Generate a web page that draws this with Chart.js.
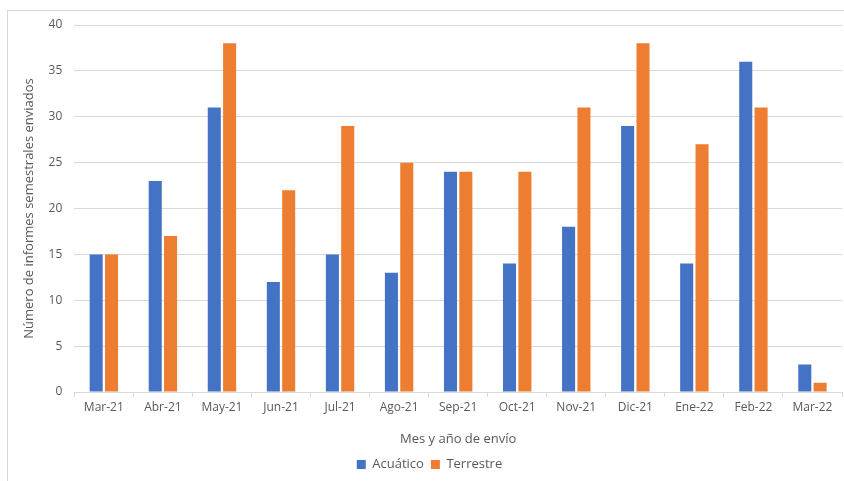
<!DOCTYPE html>
<html>
<head>
<meta charset="utf-8">
<script src="https://cdn.jsdelivr.net/npm/chart.js@4/dist/chart.umd.min.js"></script>
<style>
  html, body { margin: 0; padding: 0; background: #fff; }
  #frame { position: absolute; left: 7px; top: 10px; width: 840px; height: 480px; border: 1px solid #d9d9d9; }
  #wrap { position: absolute; left: 0; top: 0; width: 844px; height: 481px; }
</style>
</head>
<body>
<div id="frame"></div>
<div id="wrap"><canvas id="chart"></canvas></div>
<script>
const months = ["Mar-21", "Abr-21", "May-21", "Jun-21", "Jul-21", "Ago-21", "Sep-21",
                "Oct-21", "Nov-21", "Dic-21", "Ene-22", "Feb-22", "Mar-22"];
const acuatico = [15, 23, 31, 12, 15, 13, 24, 14, 18, 29, 14, 36, 3];
const terrestre = [15, 17, 38, 22, 29, 25, 24, 24, 31, 38, 27, 31, 1];
const yTicks = [0, 5, 10, 15, 20, 25, 30, 35, 40];

const textColor = "#595959";
const fontFamily = "'Open Sans', sans-serif";

new Chart(document.getElementById("chart"), {
  type: "bar",
  data: {
    labels: months,
    datasets: [
      { label: "Acuático", data: acuatico, backgroundColor: "#4472C4",
        categoryPercentage: 0.52, barPercentage: 0.85 },
      { label: "Terrestre", data: terrestre, backgroundColor: "#ED7D31",
        categoryPercentage: 0.52, barPercentage: 0.85 }
    ]
  },
  options: {
    responsive: true,
    maintainAspectRatio: false,
    animation: false,
    layout: { padding: { left: 17, right: 2, top: 25, bottom: 0 } },
    plugins: {
      tooltip: { enabled: false },
      legend: {
        position: "bottom",
        labels: {
          color: textColor,
          font: { family: fontFamily, size: 13 },
          boxWidth: 9,
          boxHeight: 9,
          padding: 7
        }
      }
    },
    scales: {
      x: {
        grid: { display: true, drawOnChartArea: false, color: "#d9d9d9", tickLength: 5, offset: true },
        border: { color: "#d9d9d9" },
        ticks: { color: textColor, font: { family: fontFamily, size: 12 }, maxRotation: 0, padding: 3 },
        title: { display: true, text: "Mes y año de envío", color: textColor,
                 font: { family: fontFamily, size: 13 }, padding: { top: 14, bottom: 4 } }
      },
      y: {
        min: 0,
        max: 40,
        afterBuildTicks: (axis) => { axis.ticks = yTicks.map((v) => ({ value: v })); },
        grid: { color: "#d9d9d9", drawTicks: false },
        border: { display: false },
        ticks: { color: textColor, font: { family: fontFamily, size: 12 }, padding: 12 },
        title: { display: true, text: "Número de informes semestrales enviados", color: textColor,
                 font: { family: fontFamily, size: 13 }, padding: { bottom: 0 } }
      }
    }
  }
});
</script>
</body>
</html>
